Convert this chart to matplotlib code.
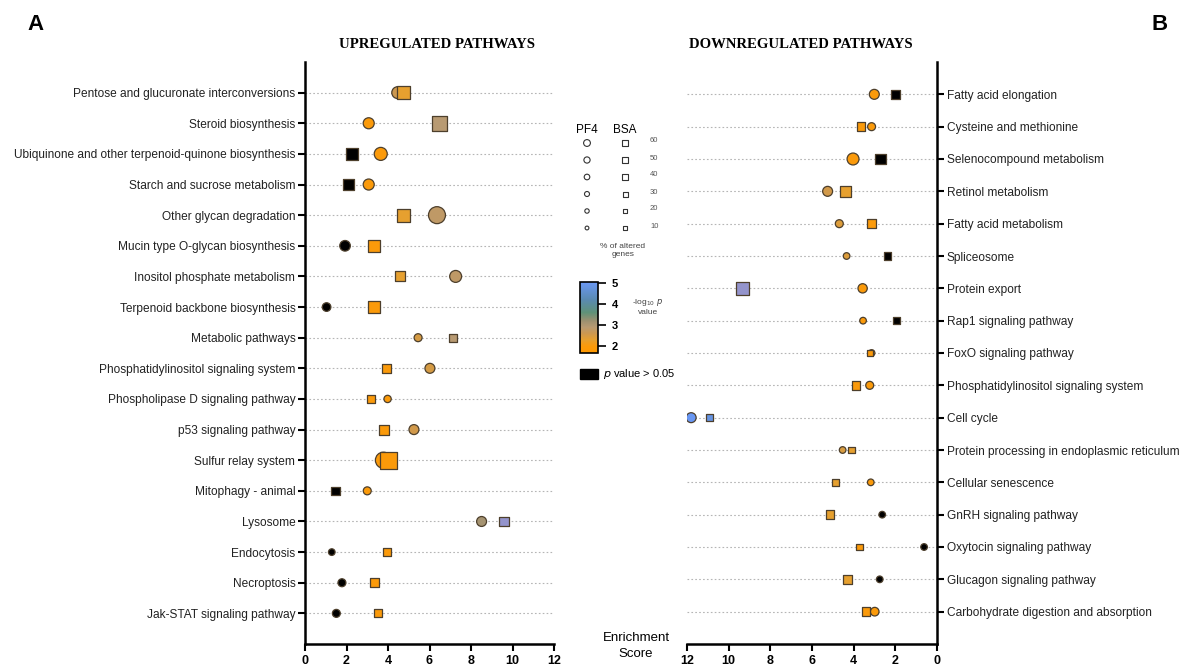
import numpy as np
import matplotlib
matplotlib.use("Agg")
import matplotlib.pyplot as plt
from matplotlib.colors import LinearSegmentedColormap, Normalize
from matplotlib.cm import ScalarMappable

plt.rcParams['font.family'] = ['Liberation Sans', 'DejaVu Sans']

# ---- upregulated pathways (panel A) ----
up_pathways = ["Pentose and glucuronate interconversions", "Steroid biosynthesis",
               "Ubiquinone and other terpenoid-quinone biosynthesis", "Starch and sucrose metabolism",
               "Other glycan degradation", "Mucin type O-glycan biosynthesis",
               "Inositol phosphate metabolism", "Terpenoid backbone biosynthesis",
               "Metabolic pathways", "Phosphatidylinositol signaling system",
               "Phospholipase D signaling pathway", "p53 signaling pathway",
               "Sulfur relay system", "Mitophagy - animal", "Lysosome", "Endocytosis",
               "Necroptosis", "Jak-STAT signaling pathway"]
up_pf4_score = [4.47, 3.07, 3.65, 3.07, 6.36, 1.93, 7.26, 1.04, 5.45, 6.02, 3.98, 5.25, 3.78, 3.00, 8.51, 1.29, 1.78, 1.51]
up_pf4_pct = [36, 32, 41, 32, 59, 30, 36, 21, 18, 27, 15, 27, 55, 18, 27, 12, 18, 18]
up_pf4_logp = [2.6, 2.0, 2.0, 2.0, 2.8, np.nan, 2.8, np.nan, 2.5, 2.5, 2.0, 2.55, 2.0, 2.0, 3.1, np.nan, np.nan, np.nan]
up_bsa_score = [4.75, 6.49, 2.28, 2.10, 4.75, 3.31, 4.58, 3.31, 7.15, 3.94, 3.18, 3.81, 4.02, 1.46, 9.60, 3.95, 3.34, 3.53]
up_bsa_pct = [41, 50, 36, 30, 41, 36, 27, 36, 18, 21, 21, 27, 61, 21, 27, 18, 21, 18]
up_bsa_logp = [2.3, 2.9, np.nan, np.nan, 2.3, 2.0, 2.3, 2.0, 2.9, 2.0, 2.0, 2.0, 2.0, np.nan, 6.0, 2.0, 2.0, 2.0]

# ---- downregulated pathways (panel B) ----
down_pathways = ["Fatty acid elongation", "Cysteine and methionine", "Selenocompound metabolism",
                 "Retinol metabolism", "Fatty acid metabolism", "Spliceosome", "Protein export",
                 "Rap1 signaling pathway", "FoxO signaling pathway", "Phosphatidylinositol signaling system",
                 "Cell cycle", "Protein processing in endoplasmic reticulum", "Cellular senescence",
                 "GnRH signaling pathway", "Oxytocin signaling pathway", "Glucagon signaling pathway",
                 "Carbohydrate digestion and absorption"]
down_pf4_score = [3.01, 3.14, 4.03, 5.25, 4.69, 4.34, 3.57, 3.55, 3.14, 3.23, 11.80, 4.53, 3.18, 2.63, 0.62, 2.75, 2.99]
down_pf4_pct = [27, 18, 36, 27, 18, 12, 24, 12, 12, 18, 27, 12, 12, 12, 12, 12, 21]
down_pf4_logp = [2.0, 2.0, 2.0, 2.55, 2.4, 2.4, 2.0, 2.0, 2.0, 2.0, 5.0, 2.45, 2.0, np.nan, np.nan, np.nan, 2.0]
down_bsa_score = [2.00, 3.65, 2.72, 4.38, 3.14, 2.37, 9.33, 1.95, 3.22, 3.89, 10.93, 4.11, 4.88, 5.14, 3.71, 4.29, 3.41]
down_bsa_pct = [21, 21, 30, 30, 21, 15, 42, 15, 12, 21, 12, 12, 15, 21, 12, 21, 21]
down_bsa_logp = [np.nan, 2.0, np.nan, 2.3, 2.0, np.nan, 6.0, np.nan, 2.0, 2.0, 4.8, 2.3, 2.3, 2.3, 2.0, 2.3, 2.0]

legend_pct = [60, 50, 40, 30, 20, 10]
cbar_ticks = [2, 3, 4, 5]

# colour scale for -log10 p
vmin, vmax = 1.67, 5.05
stops = [(1.67, "#ff9900"), (2.0, "#fb9a0a"), (2.3, "#e5a030"), (2.6, "#cc9850"),
         (2.9, "#b89a72"), (3.2, "#9c9070"), (3.6, "#5f9278"), (4.2, "#5a8ab0"), (5.05, "#6a98f5")]
cmap = LinearSegmentedColormap.from_list("enr", [((v - vmin) / (vmax - vmin), c) for v, c in stops])
cmap.set_bad("black")
cmap.set_over("#9494cc")
norm = Normalize(vmin=vmin, vmax=vmax)


def pct_to_s(pct):
    d = 4 + 0.22 * np.asarray(pct, dtype=float)   # diameter in px
    return (0.72 * d) ** 2


def draw_panel(ax, names, pf4_x, pf4_p, pf4_c, bsa_x, bsa_p, bsa_c):
    y = np.arange(len(names))
    ax.grid(axis="y", linestyle=(0, (1.5, 2)), color="#b5b5b5", lw=0.8, zorder=0)
    ax.scatter(pf4_x, y, s=pct_to_s(pf4_p), c=pf4_c, cmap=cmap, norm=norm, marker="o",
               edgecolors="#4d3f2c", linewidths=0.9, plotnonfinite=True, zorder=3)
    ax.scatter(bsa_x, y, s=pct_to_s(bsa_p), c=bsa_c, cmap=cmap, norm=norm, marker="s",
               edgecolors="#4d3f2c", linewidths=0.9, plotnonfinite=True, zorder=4)
    ax.set_yticks(y)
    ax.set_yticklabels(names, fontsize=8.6, color="#222222")
    ax.set_ylim(len(names), -1)
    ax.set_xticks(range(0, 13, 2))
    ax.set_xticklabels([str(t) for t in range(0, 13, 2)], fontsize=9, fontweight="bold")
    ax.tick_params(axis="both", length=5, width=1.5, direction="out", pad=2)
    ax.tick_params(axis="x", pad=3)
    ax.spines["top"].set_visible(False)
    ax.spines["bottom"].set_linewidth(1.8)


fig = plt.figure(figsize=(11.88, 6.69), dpi=100)

axL = fig.add_axes([305 / 1188, 1 - 644 / 669, 249 / 1188, 582 / 669])
draw_panel(axL, up_pathways, up_pf4_score, up_pf4_pct, up_pf4_logp,
           up_bsa_score, up_bsa_pct, up_bsa_logp)
axL.set_xlim(0, 12)
axL.spines["right"].set_visible(False)
axL.spines["left"].set_linewidth(1.8)

axR = fig.add_axes([687 / 1188, 1 - 644 / 669, 250 / 1188, 582 / 669])
draw_panel(axR, down_pathways, down_pf4_score, down_pf4_pct, down_pf4_logp,
           down_bsa_score, down_bsa_pct, down_bsa_logp)
axR.set_xlim(12, 0)
axR.yaxis.tick_right()
axR.spines["left"].set_visible(False)
axR.spines["right"].set_linewidth(1.8)

# overlay in pixel coordinates for titles and legend
ov = fig.add_axes([0, 0, 1, 1], zorder=-1)
ov.set_xlim(0, 1188)
ov.set_ylim(669, 0)
ov.axis("off")

ov.text(35, 25, "A", fontsize=16, fontweight="bold", ha="center", va="center")
ov.text(1160, 25, "B", fontsize=16, fontweight="bold", ha="center", va="center")
ov.text(437, 44, "UPREGULATED PATHWAYS", family="Liberation Serif", fontsize=10.6,
        fontweight="bold", ha="center", va="center")
ov.text(801, 44, "DOWNREGULATED PATHWAYS", family="Liberation Serif", fontsize=10.6,
        fontweight="bold", ha="center", va="center")
ov.text(636, 646, "Enrichment\nScore", fontsize=9.5, ha="center", va="center", linespacing=1.45)

# size legend
ov.text(587, 130, "PF4", fontsize=8.5, ha="center", va="center")
ov.text(625, 130, "BSA", fontsize=8.5, ha="center", va="center")
leg_y = 143 + 17 * np.arange(len(legend_pct))
leg_d = 3.2 + 0.06 * np.asarray(legend_pct, dtype=float)
ov.scatter(np.full(len(legend_pct), 587), leg_y, s=(0.72 * leg_d) ** 2, marker="o",
           facecolors="white", edgecolors="#333333", linewidths=0.8)
ov.scatter(np.full(len(legend_pct), 625), leg_y, s=(0.72 * leg_d) ** 2, marker="s",
           facecolors="white", edgecolors="#333333", linewidths=0.8)
for yy, p in zip(leg_y, legend_pct):
    ov.text(650, yy - 2, str(p), fontsize=5.5, color="#555555", ha="left", va="center")
ov.text(623, 251, "% of altered\ngenes", fontsize=6, color="#444444", ha="center", va="center",
        linespacing=1.2)

# colour bar
cax = fig.add_axes([580 / 1188, 1 - 353 / 669, 18 / 1188, 71 / 669])
cb = fig.colorbar(ScalarMappable(norm=norm, cmap=cmap), cax=cax, ticks=cbar_ticks)
cb.outline.set_linewidth(1.2)
cb.ax.tick_params(length=6, width=1.2, pad=4, labelsize=8)
for lbl in cb.ax.get_yticklabels():
    lbl.set_fontweight("bold")
ov.text(648, 306, "-log$_{10}$ $\\it{p}$\nvalue", fontsize=6, color="#444444",
        ha="center", va="center", linespacing=1.2)

ov.add_patch(plt.Rectangle((580, 369), 18, 10, facecolor="black", edgecolor="black"))
ov.text(603, 374, "$\\it{p}$ value > 0.05", fontsize=8, ha="left", va="center")

fig.savefig("out.png", dpi=100)
